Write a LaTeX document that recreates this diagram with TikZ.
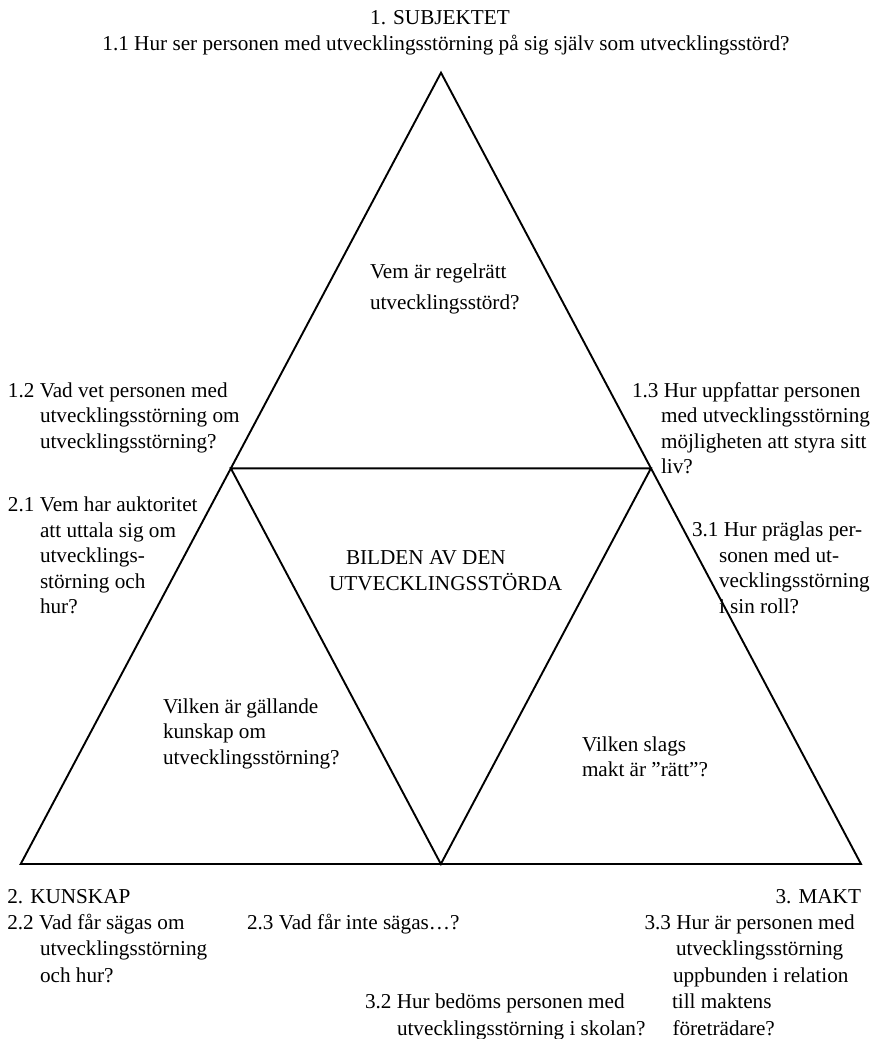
\documentclass[tikz,border=0pt]{standalone}
\usepackage{fontspec}
\setmainfont{Liberation Serif}
\tikzset{
  edge/.style={line width=1.9pt, line join=miter},
  txt/.style={anchor=base west, inner sep=0pt, outer sep=0pt, font=\fontsize{21.2}{25}\selectfont},
  txtc/.style={txt, anchor=base},
  txte/.style={txt, anchor=base east},
}
\begin{document}
\begin{tikzpicture}[x=1pt,y=-1pt]
\useasboundingbox (0,0) rectangle (880,1039);
% triangle corners
\coordinate (A) at (441,72.7);
\coordinate (BL) at (20.7,864);
\coordinate (BR) at (861,864);
\coordinate (BM) at (440.85,864);
\coordinate (ML) at (230.85,468.35);
\coordinate (MR) at (650.9,468.35);
\draw[edge] (A) -- (BL) -- (BR) -- cycle;
\draw[edge] (ML) -- (MR) -- (BM) -- cycle;

% top
\node[txtc] (sub) at (440,24) {1. SUBJEKTET};
\node[txtc] (q11) at (446,50) {1.1 Hur ser personen med utvecklingsstörning på sig själv som utvecklingsstörd?};

% inner texts
\node[txt] (vem1) at (370,278) {Vem är regelrätt};
\node[txt] (vem2) at (370,309) {utvecklingsstörd?};
\node[txt] (bild1) at (346,564) {BILDEN AV DEN};
\node[txt] (bild2) at (329,590) {UTVECKLINGSSTÖRDA};
\node[txt] (kun1) at (163,713) {Vilken är gällande};
\node[txt] (kun2) at (163,738.5) {kunskap om};
\node[txt] (kun3) at (163,764) {utvecklingsstörning?};
\node[txt] (mak1) at (582,751) {Vilken slags};
\node[txt] (mak2) at (582,776.5) {makt är ”rätt”?};

% left side
\node[txt] (q12a) at (8,397) {1.2 Vad vet personen med};
\node[txt] (q12b) at (40,422.5) {utvecklingsstörning om};
\node[txt] (q12c) at (40,448) {utvecklingsstörning?};
\node[txt] (q21a) at (8,511.7) {2.1 Vem har auktoritet};
\node[txt] (q21b) at (40,537.2) {att uttala sig om};
\node[txt] (q21c) at (40,562.7) {utvecklings-};
\node[txt] (q21d) at (40,588.2) {störning och};
\node[txt] (q21e) at (40,613.7) {hur?};

% right side
\node[txt] (q13a) at (632,397) {1.3 Hur uppfattar personen};
\node[txt] (q13b) at (661,422.5) {med utvecklingsstörning};
\node[txt] (q13c) at (661,448) {möjligheten att styra sitt};
\node[txt] (q13d) at (661,473.5) {liv?};
\node[txt] (q31a) at (692,536.7) {3.1 Hur präglas per-};
\node[txt] (q31b) at (719,562.2) {sonen med ut-};
\node[txt] (q31c) at (719,587.7) {vecklingsstörning};
\node[txt] (q31d) at (719,613.2) {i sin roll?};

% bottom
\node[txt] (kunskap) at (7.3,903) {2. KUNSKAP};
\node[txte] (makt) at (861,903) {3. MAKT};
\node[txt] (q22a) at (7.3,929.4) {2.2 Vad får sägas om};
\node[txt] (q22b) at (40,955.8) {utvecklingsstörning};
\node[txt] (q22c) at (40,982.2) {och hur?};
\node[txt] (q23) at (247,929.4) {2.3 Vad får inte sägas…?};
\node[txt] (q33a) at (644.5,929.4) {3.3 Hur är personen med};
\node[txt] (q33b) at (676,955.8) {utvecklingsstörning};
\node[txt] (q33c) at (673,982.2) {uppbunden i relation};
\node[txt] (q33d) at (672,1008.6) {till maktens};
\node[txt] (q33e) at (672.5,1035) {företrädare?};
\node[txt] (q32a) at (365,1008.6) {3.2 Hur bedöms personen med};
\node[txt] (q32b) at (397,1035) {utvecklingsstörning i skolan?};
\end{tikzpicture}
\end{document}
